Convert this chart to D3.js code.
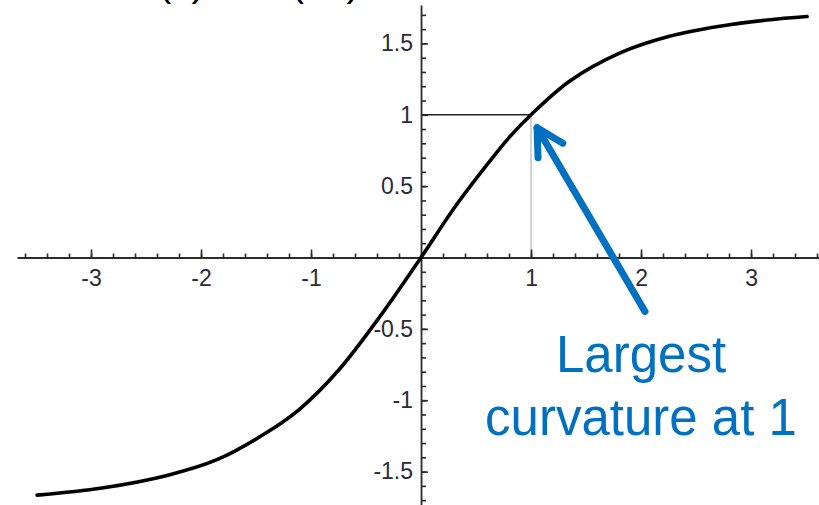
<!DOCTYPE html>
<html>
<head>
<meta charset="utf-8">
<script src="https://cdn.jsdelivr.net/npm/d3@7"></script>
<style>
  html, body { margin: 0; padding: 0; background: #fff; }
  svg { display: block; font-family: "Liberation Sans", Arial, sans-serif; }
</style>
</head>
<body>
<svg id="chart" width="819" height="505"></svg>
<script>
// Sampled points of the saturating curve
const curveX = [-3.49, -2.9, -2.3, -1.85, -1.4, -1.1, -0.75, -0.37, 0, 0.3, 0.6, 0.8, 1.0, 1.35, 1.8, 2.25, 2.7, 3.15, 3.51];
const curveY = [-1.665, -1.615, -1.525, -1.415, -1.225, -1.06, -0.79, -0.41, 0, 0.345, 0.65, 0.84, 1.0, 1.235, 1.43, 1.548, 1.618, 1.664, 1.688];

// Tick positions and labels
const xMajorTicks = [-3, -2, -1, 1, 2, 3];
const xMinorTicks = d3.range(-18, 19).map(i => i * 0.2);
const yMajorTicks = [-1.5, -1, -0.5, 0.5, 1, 1.5];
const yMinorTicks = d3.range(-17, 18).map(i => i / 10);

// Highlighted point and the note pointing at it
const markPoint = [1, 1];
const noteLines = ["Largest", "curvature at 1"];
const arrowTail = [2.036, -0.378];
const arrowTip = [1.055, 0.909];

const svg = d3.select("#chart");

const x = d3.scaleLinear().domain([-3.673, 3.618]).range([17, 819]);
const y = d3.scaleLinear().domain([1.769, -1.734]).range([5, 505]);

const axisColor = "#2b2b2b";
const labelColor = "#2a2a38";
const plain = d => String(d);

// Heading above the plot, running off the top edge
const title = svg.append("text")
  .attr("y", -4)
  .attr("font-size", 40)
  .attr("fill", "#000");
title.append("tspan").attr("x", 147).text("f(x)");
title.append("tspan").attr("x", 213).text("tanh(2x)");

// Guide lines to the highlighted point
svg.append("line")
  .attr("x1", x(0)).attr("x2", x(markPoint[0]))
  .attr("y1", y(markPoint[1])).attr("y2", y(markPoint[1]))
  .attr("stroke", "#222").attr("stroke-width", 1.3);
svg.append("line")
  .attr("x1", x(markPoint[0])).attr("x2", x(markPoint[0]))
  .attr("y1", y(markPoint[1])).attr("y2", y(0))
  .attr("stroke", "#bdbdbd").attr("stroke-width", 1.3);

// X axis: minor then major ticks, pointing upward
const xAxisG = svg.append("g").attr("transform", `translate(0,${y(0)})`);
xAxisG.append("g")
  .call(d3.axisBottom(x).tickValues(xMinorTicks).tickSize(-4).tickSizeOuter(0).tickFormat(""))
  .call(g => g.select(".domain").attr("stroke", axisColor).attr("stroke-width", 1.8));
xAxisG.append("g")
  .call(d3.axisBottom(x).tickValues(xMajorTicks).tickSize(-8).tickSizeOuter(0).tickPadding(12).tickFormat(plain))
  .call(g => g.select(".domain").remove())
  .call(g => g.selectAll("text").attr("font-size", 23).attr("fill", labelColor)
    .attr("font-family", "'Liberation Sans', Arial, sans-serif"));
xAxisG.selectAll("line").attr("stroke", axisColor).attr("stroke-width", 1.6);

// Y axis: ticks pointing right, labels on the left
const yAxisG = svg.append("g").attr("transform", `translate(${x(0)},0)`);
yAxisG.append("g")
  .call(d3.axisLeft(y).tickValues(yMinorTicks).tickSize(-5).tickSizeOuter(0).tickFormat(""))
  .call(g => g.select(".domain").attr("stroke", axisColor).attr("stroke-width", 1.8));
yAxisG.append("g")
  .call(d3.axisLeft(y).tickValues(yMajorTicks).tickSize(-7).tickSizeOuter(0).tickPadding(8).tickFormat(plain))
  .call(g => g.select(".domain").remove())
  .call(g => g.selectAll("text").attr("font-size", 23).attr("fill", labelColor)
    .attr("font-family", "'Liberation Sans', Arial, sans-serif"));
yAxisG.selectAll("line").attr("stroke", axisColor).attr("stroke-width", 1.6);

// The curve
const pts = curveX.map((v, i) => [v, curveY[i]]);
svg.append("path")
  .datum(pts)
  .attr("fill", "none")
  .attr("stroke", "#000")
  .attr("stroke-width", 3.6)
  .attr("stroke-linecap", "round")
  .attr("d", d3.line().x(d => x(d[0])).y(d => y(d[1])).curve(d3.curveCatmullRom.alpha(0.5)));

// Annotation arrow
const blue = "#0070c0";
const tx = x(arrowTip[0]), ty = y(arrowTip[1]);
const sx = x(arrowTail[0]), sy = y(arrowTail[1]);
const ang = Math.atan2(ty - sy, tx - sx);
const headLen = 30, spread = 0.5;
svg.append("line")
  .attr("x1", sx).attr("y1", sy).attr("x2", tx).attr("y2", ty)
  .attr("stroke", blue).attr("stroke-width", 7).attr("stroke-linecap", "round");
svg.append("path")
  .attr("d", `M${tx - headLen * Math.cos(ang - spread)},${ty - headLen * Math.sin(ang - spread)}` +
             `L${tx},${ty}` +
             `L${tx - headLen * Math.cos(ang + spread)},${ty - headLen * Math.sin(ang + spread)}`)
  .attr("fill", "none").attr("stroke", blue).attr("stroke-width", 7)
  .attr("stroke-linecap", "round").attr("stroke-linejoin", "round");

// Annotation text
svg.append("g").selectAll("text")
  .data(noteLines)
  .join("text")
  .attr("x", 641)
  .attr("y", (d, i) => 372 + i * 63)
  .attr("text-anchor", "middle")
  .attr("font-size", 51)
  .attr("fill", blue)
  .text(d => d);
</script>
</body>
</html>
